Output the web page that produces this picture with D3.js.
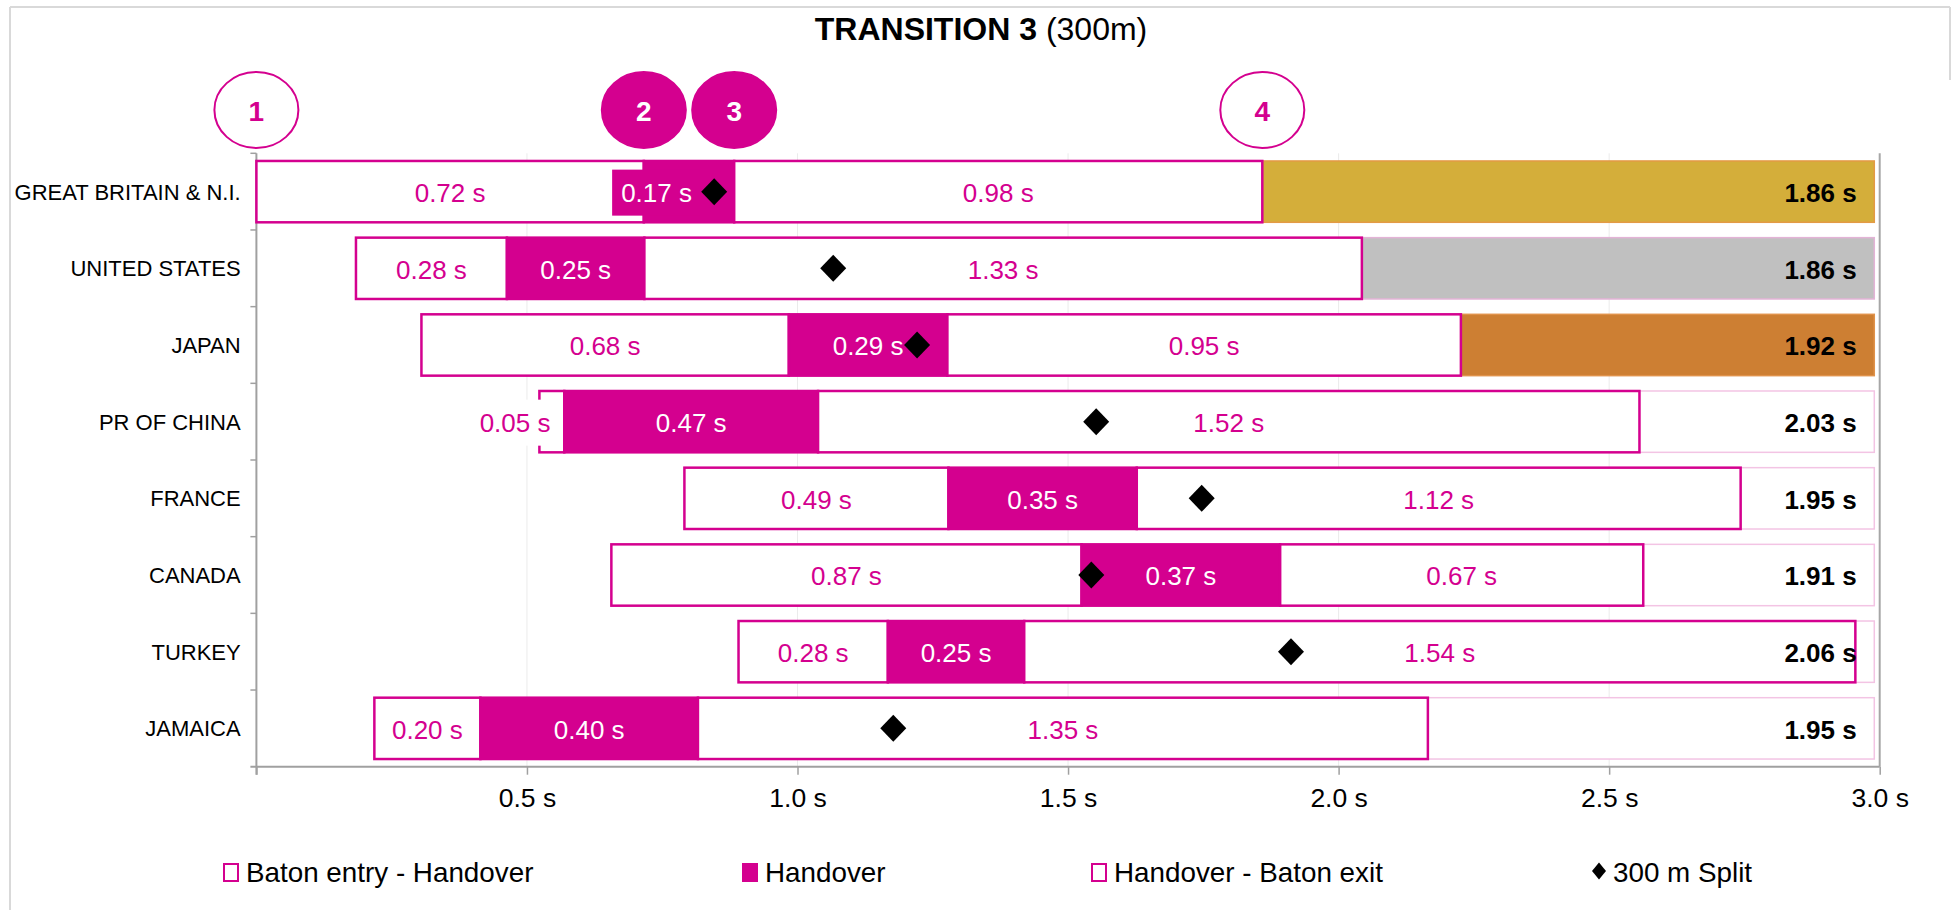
<!DOCTYPE html>
<html>
<head>
<meta charset="utf-8">
<script src="https://cdn.jsdelivr.net/npm/d3@7"></script>
<style>
  body { margin: 0; background: #fff; }
  svg { font-family: Arial, "Liberation Sans", sans-serif; display: block; }
</style>
</head>
<body>
<div id="chart"></div>
<script>
// data (seconds)
var countries = ["GREAT BRITAIN & N.I.", "UNITED STATES", "JAPAN", "PR OF CHINA",
                 "FRANCE", "CANADA", "TURKEY", "JAMAICA"];
var entryStart      = [0.000, 0.184, 0.305, 0.523, 0.791, 0.656, 0.891, 0.218];
var entryToHandover = [0.716, 0.279, 0.679, 0.046, 0.488, 0.869, 0.276, 0.196];
var handoverTime    = [0.167, 0.254, 0.293, 0.469, 0.348, 0.367, 0.252, 0.402];
var handoverToExit  = [0.976, 1.326, 0.949, 1.518, 1.116, 0.671, 1.536, 1.349];
var split300        = [0.846, 1.066, 1.221, 1.552, 1.747, 1.543, 1.912, 1.177];
var medals          = ["gold", "silver", "bronze", null, null, null, null, null];
var xTicks          = [0, 0.5, 1.0, 1.5, 2.0, 2.5, 3.0];
var barEnd          = 2.99;
var legendLabels    = ["Baton entry - Handover", "Handover", "Handover - Baton exit", "300 m Split"];
// labels that were dragged aside in the original (row -> [seg1, seg2, seg3] shift in s)
var labelNudge = { 0: [0, -0.06, 0], 3: [-0.068, 0, 0] };

var W = 1952, H = 910;
var MAG = "#d4008f";
var medalFill   = { gold: "#d4ae3a", silver: "#c0c0c0", bronze: "#cd7f33" };
var medalStroke = { gold: "#e39a45", silver: "#e3b3d6", bronze: "#e0924a" };

var svg = d3.select("#chart").append("svg")
    .attr("width", W)
    .attr("height", H);

// chart frame (partly visible in the original)
var frame = svg.append("g").attr("stroke", "#d9d9d9").attr("stroke-width", 2);
frame.append("line").attr("x1", 10).attr("x2", 1950).attr("y1", 7).attr("y2", 7);
frame.append("line").attr("x1", 10).attr("x2", 10).attr("y1", 7).attr("y2", H);
frame.append("line").attr("x1", 1950).attr("x2", 1950).attr("y1", 7).attr("y2", 80);

var x = d3.scaleLinear().domain([0, 3]).range([256.4, 1879.7]);
var y = d3.scaleBand().domain(countries).range([153.3, 766.7])
    .paddingInner(0.2).paddingOuter(0.1);
var step = y.step();

// title
var title = svg.append("text")
    .attr("x", 981).attr("y", 40)
    .attr("text-anchor", "middle")
    .attr("font-size", 32);
title.append("tspan").attr("font-weight", "bold").text("TRANSITION 3");
title.append("tspan").text(" (300m)");

// gridlines
svg.append("g").selectAll("line")
  .data(xTicks.filter(function(d){ return d > 0; }))
  .enter().append("line")
    .attr("x1", function(d){ return x(d); })
    .attr("x2", function(d){ return x(d); })
    .attr("y1", y.range()[0]).attr("y2", y.range()[1])
    .attr("stroke", function(d){ return d === 3 ? "#a6a6a6" : "#ebebeb"; })
    .attr("stroke-width", function(d){ return d === 3 ? 2 : 1; });

// axes
var xAxis = svg.append("g")
    .attr("transform", "translate(0," + y.range()[1] + ")")
    .call(d3.axisBottom(x).tickValues(xTicks).tickSize(8).tickSizeOuter(0)
      .tickFormat(function(d){ return d === 0 ? "" : d3.format(".1f")(d) + " s"; }));
xAxis.select(".domain").attr("stroke", "#a0a0a0").attr("stroke-width", 2)
    .attr("d", "M" + (x(0) - 6) + ",0H" + x(3));
xAxis.selectAll(".tick line").attr("stroke", "#a0a0a0").attr("stroke-width", 1.5);
xAxis.selectAll(".tick text").attr("font-size", 26.5).attr("fill", "#000")
    .attr("dy", null).attr("y", 40.5);

var yAxis = svg.append("g");
yAxis.append("line")
    .attr("x1", x(0)).attr("x2", x(0))
    .attr("y1", y.range()[0]).attr("y2", y.range()[1] + 8)
    .attr("stroke", "#a0a0a0").attr("stroke-width", 2);
yAxis.selectAll("line.tk")
  .data(d3.range(countries.length))
  .enter().append("line").attr("class", "tk")
    .attr("x1", x(0) - 6).attr("x2", x(0))
    .attr("y1", function(i){ return y.range()[0] + i * step; })
    .attr("y2", function(i){ return y.range()[0] + i * step; })
    .attr("stroke", "#a0a0a0").attr("stroke-width", 1.5);
yAxis.selectAll("text")
  .data(countries)
  .enter().append("text")
    .attr("x", 240.7)
    .attr("y", function(d){ return y(d) + y.bandwidth() / 2 + 8; })
    .attr("text-anchor", "end")
    .attr("font-size", 22)
    .text(function(d){ return d; });

// rows
var rows = countries.map(function(c, i) {
  var s0 = entryStart[i];
  var s1 = s0 + entryToHandover[i];
  var s2 = s1 + handoverTime[i];
  var s3 = s2 + handoverToExit[i];
  return {
    name: c, i: i, medal: medals[i], split: split300[i],
    total: entryToHandover[i] + handoverTime[i] + handoverToExit[i],
    segs: [
      { a: s0, b: s1, v: entryToHandover[i], fill: "#fff", text: MAG },
      { a: s1, b: s2, v: handoverTime[i],    fill: MAG,    text: "#fff" },
      { a: s2, b: s3, v: handoverToExit[i],  fill: "#fff", text: MAG }
    ],
    exit: s3
  };
});

var fmt = d3.format(".2f");
var bh = y.bandwidth();

var row = svg.append("g").selectAll("g")
  .data(rows)
  .enter().append("g")
    .attr("transform", function(d){ return "translate(0," + y(d.name) + ")"; });

// remainder to the end of the scale
row.append("rect")
    .attr("x", function(d){ return x(d.exit); })
    .attr("width", function(d){ return x(barEnd) - x(d.exit); })
    .attr("y", 0).attr("height", bh)
    .attr("fill", function(d){ return d.medal ? medalFill[d.medal] : "#fff"; })
    .attr("stroke", function(d){ return d.medal ? medalStroke[d.medal] : "#f3c4e4"; })
    .attr("stroke-width", 1.5);

row.selectAll("rect.seg")
  .data(function(d){ return d.segs; })
  .enter().append("rect").attr("class", "seg")
    .attr("x", function(s){ return x(s.a); })
    .attr("width", function(s){ return x(s.b) - x(s.a); })
    .attr("y", 0).attr("height", bh)
    .attr("fill", function(s){ return s.fill; })
    .attr("stroke", MAG)
    .attr("stroke-width", 2.5);

// segment labels
row.each(function(d) {
  var g = d3.select(this);
  d.segs.forEach(function(s, k) {
    var nudge = labelNudge[d.i] ? labelNudge[d.i][k] : 0;
    var cx = (x(s.a) + x(s.b)) / 2 + (x(nudge) - x(0));
    var lg = g.append("g");
    var t = lg.append("text")
        .attr("x", cx).attr("y", bh / 2 + 10.5)
        .attr("text-anchor", "middle")
        .attr("font-size", 26)
        .attr("fill", s.text)
        .text(fmt(s.v) + " s");
    if (nudge !== 0) {
      var bb = t.node().getBBox();
      lg.insert("rect", "text")
          .attr("x", bb.x - 9).attr("width", bb.width + 18)
          .attr("y", bh / 2 - 22).attr("height", 46)
          .attr("fill", s.fill);
    }
  });
});

// total time
row.append("text")
    .attr("x", x(3) - 23)
    .attr("y", bh / 2 + 10.5)
    .attr("text-anchor", "end")
    .attr("font-size", 26)
    .attr("font-weight", "bold")
    .text(function(d){ return fmt(d.total) + " s"; });

// 300 m split diamonds
function diamond(cx, cy, hw, hh) {
  return "M" + cx + "," + (cy - hh) + "L" + (cx + hw) + "," + cy +
         "L" + cx + "," + (cy + hh) + "L" + (cx - hw) + "," + cy + "Z";
}
row.append("path")
    .attr("d", function(d){ return diamond(x(d.split), bh / 2, 13, 13.5); })
    .attr("fill", "#000");

// numbered markers over the first row
var gb = rows[0];
var marks = [
  { n: "1", t: gb.segs[0].a, filled: false },
  { n: "2", t: gb.segs[1].a, filled: true },
  { n: "3", t: gb.segs[1].b, filled: true },
  { n: "4", t: gb.exit,      filled: false }
];
var mk = svg.append("g").selectAll("g")
  .data(marks)
  .enter().append("g")
    .attr("transform", function(d){ return "translate(" + x(d.t) + ",110)"; });
mk.append("ellipse")
    .attr("rx", 42).attr("ry", 38)
    .attr("fill", function(d){ return d.filled ? MAG : "#fff"; })
    .attr("stroke", MAG).attr("stroke-width", 2);
mk.append("text")
    .attr("y", 10.5)
    .attr("text-anchor", "middle")
    .attr("font-size", 28)
    .attr("font-weight", "bold")
    .attr("fill", function(d){ return d.filled ? "#fff" : MAG; })
    .text(function(d){ return d.n; });

// legend
var legX = [223, 742, 1091, 1591];
var leg = svg.append("g").selectAll("g")
  .data(legendLabels)
  .enter().append("g")
    .attr("transform", function(d, i){ return "translate(" + legX[i] + ",0)"; });
leg.each(function(d, i) {
  var g = d3.select(this);
  if (i < 3) {
    g.append("rect")
        .attr("x", 1).attr("y", 864).attr("width", 14).attr("height", 17)
        .attr("fill", i === 1 ? MAG : "#fff")
        .attr("stroke", MAG).attr("stroke-width", 2);
  } else {
    g.append("path").attr("d", diamond(8, 871, 7, 8.5)).attr("fill", "#000");
  }
  g.append("text")
      .attr("x", i < 3 ? 23 : 22)
      .attr("y", 882)
      .attr("font-size", 27.8)
      .text(d);
});
</script>
</body>
</html>
